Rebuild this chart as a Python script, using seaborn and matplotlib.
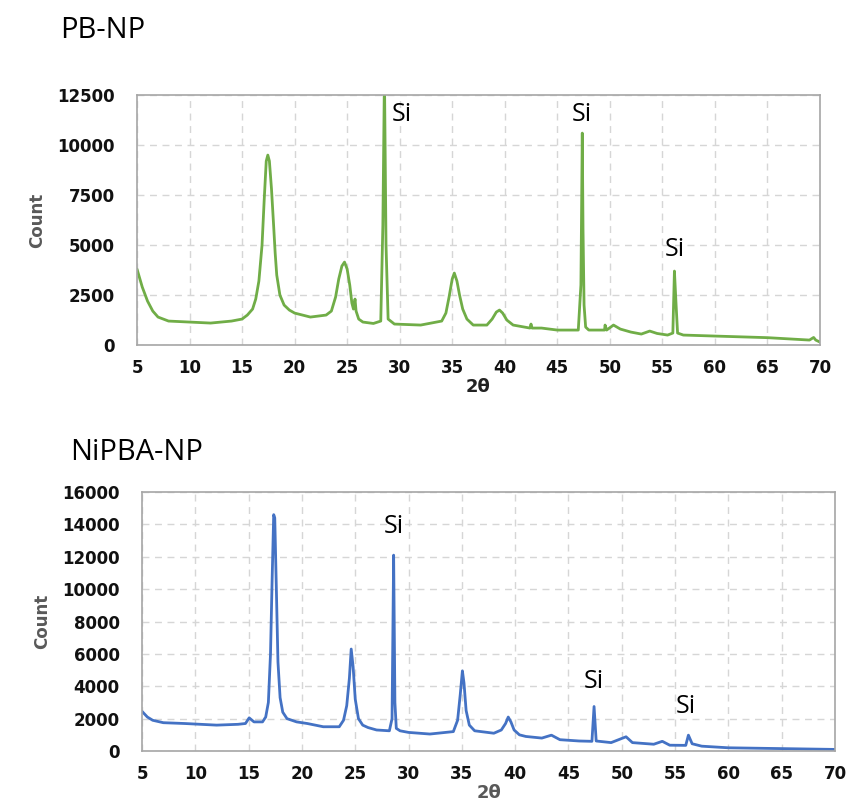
import numpy as np
import pandas as pd
import seaborn as sns
import matplotlib.pyplot as plt

# PB-NP pattern (2theta, count)
pb_theta = [5.0, 5.5, 6.0, 6.5, 7.0, 8.0, 10.0, 12.0, 14.0, 15.0, 15.5, 16.0, 16.3, 16.6, 16.9,
            17.1, 17.3, 17.45, 17.6, 17.8, 18.0, 18.15, 18.3, 18.6, 19.0, 19.5, 20.0, 21.5, 23.0,
            23.5, 23.9, 24.2, 24.5, 24.75, 25.0, 25.25, 25.45, 25.6, 25.75, 25.85, 26.1, 26.5,
            27.5, 28.2, 28.4, 28.55, 28.7, 28.9, 29.5, 32.0, 34.0, 34.4, 34.7, 35.0, 35.2, 35.45,
            35.7, 36.0, 36.4, 37.0, 38.3, 38.8, 39.2, 39.5, 39.8, 40.2, 40.8, 42.4, 42.5, 42.6,
            43.5, 45.0, 47.0, 47.25, 47.38, 47.45, 47.55, 47.7, 48.0, 49.5, 49.55, 49.7, 50.35,
            51.0, 52.0, 53.0, 53.8, 54.5, 55.5, 56.0, 56.15, 56.3, 56.45, 57.0, 60.0, 65.0, 69.0,
            69.4, 69.6, 70.0]
pb_count = [3800, 2900, 2200, 1700, 1400, 1200, 1150, 1100, 1200, 1300, 1500, 1800, 2300, 3200, 5000,
            7200, 9200, 9500, 9200, 7800, 6000, 4600, 3500, 2500, 2000, 1750, 1600, 1400, 1500,
            1700, 2400, 3300, 3950, 4150, 3800, 3000, 2100, 1800, 2300, 1700, 1300, 1150,
            1080, 1200, 6000, 13500, 5000, 1300, 1050, 1000, 1200, 1600, 2400, 3300, 3600, 3200,
            2500, 1800, 1300, 1000, 1000, 1300, 1650, 1750, 1600, 1250, 1000, 850, 1050, 850,
            850, 750, 750, 3000, 10600, 5800, 2000, 900, 750, 750, 1000, 750, 1000,
            800, 650, 550, 700, 580, 500, 600, 3700, 2100, 600, 500, 450, 370, 250,
            380, 250, 150]

# NiPBA-NP pattern
ni_theta = [5.0, 5.5, 6.0, 7.0, 9.0, 12.0, 14.0, 14.7, 15.05, 15.5, 16.3, 16.6, 16.85, 17.05, 17.2,
            17.35, 17.45, 17.6, 17.75, 17.95, 18.2, 18.6, 19.5, 20.5, 22.0, 23.5, 23.9, 24.2, 24.45,
            24.62, 24.8, 25.0, 25.3, 25.7, 26.2, 27.0, 28.2, 28.45, 28.6, 28.72, 28.85, 29.2, 30.0,
            32.0, 34.2, 34.6, 34.85, 35.05, 35.2, 35.4, 35.7, 36.2, 38.0, 38.7, 39.1, 39.35, 39.6,
            39.9, 40.4, 41.0, 42.5, 43.4, 44.2, 46.0, 47.2, 47.4, 47.6, 49.0, 50.4, 51.0, 53.0,
            53.8, 54.5, 56.0, 56.25, 56.6, 57.5, 60.0, 65.0, 70.0]
ni_count = [2450, 2100, 1900, 1750, 1700, 1600, 1650, 1700, 2050, 1800, 1800, 2100, 3000, 6000, 10500,
            14600, 14400, 10000, 5500, 3300, 2400, 2000, 1800, 1700, 1500, 1500, 1900, 2800, 4500,
            6300, 5200, 3200, 2000, 1600, 1450, 1300, 1250, 2000, 12100, 3000, 1400, 1250, 1150,
            1050, 1200, 1900, 3500, 4950, 4200, 2500, 1600, 1250, 1100, 1300, 1700, 2100, 1800,
            1300, 1000, 900, 800, 980, 700, 620, 600, 2750, 620, 520, 880, 520, 420,
            600, 360, 350, 980, 450, 300, 200, 150, 100]

sns.set_style("white")
plt.rcParams['font.family'] = ['DejaVu Sans']

fig = plt.figure(figsize=(8.51, 8.10), dpi=100)
ax1 = fig.add_axes([0.161, 0.574, 0.8025, 0.3086])
ax2 = fig.add_axes([0.1669, 0.0728, 0.8143, 0.3198])


def style_axis(ax, ymax, ystep, xlab_color):
    ax.set_xlim(5, 70)
    ax.set_ylim(0, ymax)
    ax.set_xticks(range(5, 71, 5))
    ax.set_yticks(np.arange(0, ymax + 1, ystep))
    ax.grid(True, color="#d6d6d6", linestyle=(0, (5, 4)), linewidth=1)
    for s in ax.spines.values():
        s.set_color("#a6a6a6")
        s.set_linewidth(1.2)
    ax.tick_params(axis="both", length=0, labelsize=12, colors="#111111")
    ax.tick_params(axis="y", pad=16)
    ax.tick_params(axis="x", pad=10)
    for lab in ax.get_xticklabels() + ax.get_yticklabels():
        lab.set_fontweight("bold")
    ax.set_ylabel("Count", fontsize=12, color="#595959", fontweight="bold", labelpad=8,
                  family=["Liberation Sans Narrow", "DejaVu Sans"])
    ax.set_xlabel("2θ", fontsize=13, color=xlab_color, fontweight="bold", labelpad=1)


pb = pd.DataFrame({"theta": pb_theta, "count": pb_count})
ni = pd.DataFrame({"theta": ni_theta, "count": ni_count})

sns.lineplot(data=pb, x="theta", y="count", ax=ax1, color="#70ad47", linewidth=2, estimator=None)
sns.lineplot(data=ni, x="theta", y="count", ax=ax2, color="#4472c4", linewidth=2, estimator=None)

style_axis(ax1, 12500, 2500, "#222222")
style_axis(ax2, 16000, 2000, "#595959")

# Si markers
si_font = dict(fontsize=18, family=["Open Sans", "DejaVu Sans"], va="bottom", color="black")
ax1.text(29.2, 10900, "Si", ha="left", **si_font)
ax1.text(47.3, 10900, "Si", ha="center", **si_font)
ax1.text(56.2, 4150, "Si", ha="center", **si_font)
ax2.text(28.6, 13100, "Si", ha="center", **si_font)
ax2.text(47.35, 3500, "Si", ha="center", **si_font)
ax2.text(56.0, 1950, "Si", ha="center", **si_font)

title_font = dict(fontsize=21, family=["Open Sans", "DejaVu Sans"], va="center", ha="left",
                  color="black")
fig.text(60 / 851, 1 - 30 / 810, "PB-NP", **title_font)
fig.text(70 / 851, 1 - 453 / 810, "NiPBA-NP", **title_font)

fig.savefig("out.png", dpi=100)
